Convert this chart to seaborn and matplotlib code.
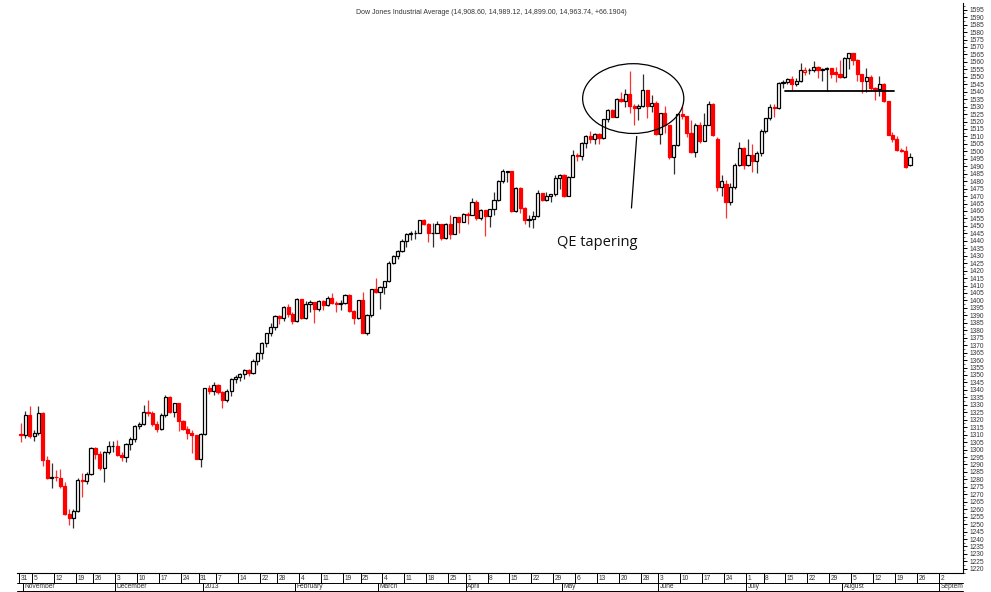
import matplotlib
matplotlib.use("Agg")
import matplotlib.pyplot as plt
from matplotlib.patches import Ellipse
from matplotlib.ticker import MultipleLocator
from matplotlib.transforms import Bbox, TransformedBbox
import numpy as np
import pandas as pd
import seaborn as sns

# Trading calendar (US market holidays + Sandy closure before the first bar)
holidays = ["2012-11-22", "2012-12-25", "2013-01-01", "2013-01-21",
            "2013-02-18", "2013-03-29", "2013-05-27", "2013-07-04"]
first_day = "2012-10-31"
last_day = "2013-08-22"
axis_end = "2013-09-06"

# Daily OHLC, in axis units (index / 10), one line per week
opens = [
    1310.7, 1309.6, 1323.2,
    1309.3, 1311.2, 1324.5, 1293.2, 1281.1,
    1281.8, 1281.0, 1275.6, 1257.0, 1254.2,
    1258.8, 1279.6, 1278.8, 1283.6,
    1300.8, 1296.7, 1287.8, 1298.5, 1302.2,
    1302.6, 1296.6, 1295.2, 1303.5, 1307.4,
    1315.5, 1317.0, 1325.0, 1324.6, 1317.1,
    1313.5, 1323.5, 1335.2, 1325.2, 1331.1,
    1319.0, 1313.9, 1311.4, 1309.6,
    1293.8, 1310.4, 1341.2, 1339.1,
    1343.5, 1338.5, 1332.9, 1339.0, 1347.1,
    1348.8, 1350.7, 1353.5, 1351.1, 1359.6,
    1365.0, 1371.2, 1377.9, 1382.5,
    1389.6, 1388.2, 1395.5, 1391.1, 1386.1,
    1400.9, 1388.0, 1397.9, 1398.7, 1394.4,
    1399.3, 1397.2, 1401.9, 1398.2, 1397.3,
    1398.1, 1403.5, 1392.8, 1388.1,
    1400.0, 1378.4, 1390.0, 1407.5, 1405.4,
    1408.9, 1412.8, 1425.4, 1429.6, 1432.9,
    1439.7, 1444.7, 1445.0, 1445.5, 1453.9,
    1451.4, 1445.2, 1445.5, 1451.1, 1442.1,
    1451.2, 1444.8, 1455.9, 1452.7,
    1457.9, 1457.3, 1466.2, 1455.0, 1460.6,
    1456.5, 1461.3, 1467.3, 1480.2, 1486.3,
    1486.5, 1459.9, 1475.7, 1461.9, 1453.7,
    1454.7, 1456.7, 1471.9, 1467.6, 1470.0,
    1471.2, 1481.9, 1484.0, 1470.0, 1483.1,
    1497.3, 1496.8, 1505.6, 1510.5, 1508.2,
    1511.8, 1509.1, 1521.5, 1527.5, 1523.3,
    1535.4, 1533.5, 1538.7, 1530.7, 1529.4,
    1530.3, 1540.9, 1530.2, 1532.4,
    1511.5, 1525.4, 1517.7, 1496.0, 1504.0,
    1524.8, 1523.9, 1512.2, 1499.5, 1517.6,
    1507.0, 1518.0, 1531.8, 1508.5, 1475.8,
    1478.0, 1466.0, 1476.0, 1491.0, 1502.4,
    1491.0, 1497.5, 1493.2, 1498.8,
    1513.6, 1522.5, 1530.0, 1529.1, 1546.0,
    1546.5, 1548.4, 1545.2, 1547.0, 1553.0,
    1554.4, 1554.5, 1556.7, 1554.3, 1555.5,
    1555.9, 1553.5, 1552.1, 1550.0, 1562.8,
    1565.8, 1561.2, 1551.8, 1547.1, 1549.8,
    1542.6, 1541.9, 1545.1, 1533.7, 1511.3,
    1508.1, 1501.0, 1500.2, 1490.9,
]
highs = [
    1318.0, 1326.0, 1329.0,
    1313.0, 1329.0, 1325.0, 1296.0, 1291.0,
    1286.0, 1287.0, 1278.0, 1260.0, 1260.0,
    1281.0, 1284.0, 1285.0, 1301.5,
    1301.5, 1299.0, 1299.0, 1306.0, 1305.5,
    1306.5, 1298.5, 1304.6, 1308.5, 1316.5,
    1318.5, 1329.8, 1333.1, 1326.0, 1319.0,
    1324.5, 1336.5, 1336.0, 1331.5, 1331.5,
    1319.5, 1316.0, 1313.0, 1310.0,
    1311.0, 1341.5, 1343.0, 1345.5,
    1344.0, 1339.0, 1340.5, 1348.0, 1350.0,
    1351.5, 1354.0, 1354.0, 1361.0, 1365.5,
    1372.0, 1378.5, 1385.0, 1390.0,
    1390.5, 1396.5, 1397.5, 1392.0, 1401.5,
    1401.0, 1399.3, 1400.0, 1399.0, 1400.0,
    1400.3, 1403.0, 1404.7, 1399.5, 1400.0,
    1404.5, 1404.5, 1393.5, 1400.5,
    1406.0, 1391.0, 1408.0, 1415.0, 1409.5,
    1413.0, 1426.5, 1430.5, 1434.0, 1441.3,
    1445.5, 1446.4, 1447.0, 1454.0, 1454.5,
    1452.0, 1452.0, 1453.5, 1451.5, 1452.0,
    1457.5, 1456.3, 1456.0, 1458.5,
    1459.5, 1468.5, 1467.1, 1461.5, 1460.6,
    1461.5, 1473.0, 1481.0, 1488.0, 1487.0,
    1487.0, 1476.0, 1476.0, 1463.0, 1457.0,
    1460.0, 1474.0, 1472.0, 1473.0, 1471.5,
    1484.0, 1485.0, 1484.5, 1483.5, 1501.0,
    1499.0, 1506.0, 1511.0, 1513.5, 1512.0,
    1512.5, 1522.0, 1528.5, 1528.2, 1535.5,
    1540.0, 1542.0, 1554.2, 1531.5, 1532.0,
    1552.0, 1541.0, 1537.5, 1533.9,
    1525.5, 1530.5, 1518.0, 1504.5, 1525.5,
    1530.5, 1524.0, 1520.8, 1519.0, 1520.0,
    1526.0, 1533.5, 1532.5, 1509.5, 1484.0,
    1480.5, 1479.0, 1492.0, 1506.5, 1503.0,
    1508.0, 1505.0, 1500.0, 1515.0,
    1522.5, 1532.0, 1531.5, 1546.5, 1548.0,
    1549.5, 1550.5, 1549.5, 1559.0, 1556.5,
    1556.0, 1560.4, 1557.0, 1556.0, 1556.5,
    1556.0, 1556.5, 1561.0, 1563.3, 1565.8,
    1566.0, 1562.0, 1552.0, 1556.0, 1551.5,
    1543.0, 1550.5, 1546.0, 1533.7, 1513.0,
    1510.5, 1502.5, 1503.5, 1498.9,
]
lows = [
    1305.0, 1308.0, 1308.0,
    1306.0, 1310.0, 1289.0, 1280.5, 1274.3,
    1279.0, 1274.5, 1256.0, 1249.5, 1247.1,
    1258.0, 1268.0, 1277.0, 1283.0,
    1293.5, 1286.0, 1277.9, 1297.0, 1298.5,
    1296.0, 1292.5, 1291.8, 1300.0, 1305.0,
    1313.5, 1316.5, 1322.5, 1316.0, 1311.5,
    1313.0, 1322.0, 1324.5, 1322.0, 1312.5,
    1313.0, 1307.0, 1298.0, 1293.5,
    1288.5, 1310.0, 1337.0, 1336.5,
    1337.0, 1328.0, 1332.0, 1336.0, 1344.5,
    1346.0, 1347.5, 1349.5, 1351.0, 1356.5,
    1361.0, 1368.5, 1376.0, 1380.0,
    1384.5, 1386.0, 1389.0, 1384.0, 1385.5,
    1387.5, 1387.6, 1392.5, 1385.0, 1393.0,
    1393.5, 1396.5, 1397.5, 1392.0, 1393.5,
    1397.5, 1392.5, 1384.0, 1387.5,
    1378.2, 1376.9, 1389.0, 1405.0, 1394.0,
    1404.5, 1412.5, 1424.7, 1428.0, 1432.5,
    1436.0, 1440.5, 1441.0, 1445.0, 1450.3,
    1439.2, 1436.0, 1445.0, 1440.8, 1441.5,
    1441.5, 1444.5, 1445.5, 1452.5,
    1451.0, 1457.0, 1453.7, 1454.0, 1443.5,
    1449.5, 1457.0, 1467.0, 1478.5, 1479.5,
    1459.5, 1459.5, 1458.6, 1451.0, 1449.0,
    1448.5, 1456.0, 1466.5, 1467.0, 1466.0,
    1470.0, 1474.5, 1469.5, 1469.8, 1483.0,
    1493.5, 1494.5, 1502.0, 1505.5, 1505.2,
    1505.0, 1508.5, 1519.5, 1523.0, 1523.0,
    1532.9, 1530.0, 1526.0, 1518.0, 1521.0,
    1530.0, 1522.5, 1526.5, 1511.0,
    1505.0, 1512.0, 1495.0, 1484.5, 1503.5,
    1522.0, 1509.9, 1499.0, 1496.5, 1505.5,
    1507.0, 1517.5, 1510.0, 1473.7, 1470.0,
    1455.0, 1464.0, 1475.0, 1490.5, 1488.0,
    1490.5, 1486.0, 1485.5, 1497.0,
    1512.5, 1521.0, 1523.0, 1528.5, 1542.5,
    1545.0, 1541.0, 1543.5, 1546.5, 1551.5,
    1552.0, 1553.5, 1549.5, 1547.0, 1540.5,
    1549.5, 1546.5, 1549.5, 1549.5, 1555.0,
    1558.0, 1547.0, 1539.0, 1540.0, 1540.8,
    1534.5, 1537.0, 1533.0, 1511.0, 1506.0,
    1500.5, 1499.5, 1488.9, 1489.9,
]
closes = [
    1309.6, 1323.2, 1309.3,
    1311.2, 1324.6, 1293.2, 1281.1, 1281.6,
    1281.5, 1275.6, 1257.0, 1254.2, 1258.8,
    1279.6, 1278.8, 1283.6, 1301.0,
    1296.7, 1287.8, 1298.5, 1302.2, 1302.6,
    1296.6, 1295.2, 1303.5, 1307.4, 1315.5,
    1317.0, 1324.9, 1324.6, 1317.1, 1313.5,
    1323.5, 1335.1, 1325.2, 1331.1, 1319.0,
    1313.9, 1311.4, 1309.6, 1293.8,
    1310.4, 1341.2, 1339.1, 1343.5,
    1338.5, 1332.9, 1339.0, 1347.1, 1348.8,
    1350.7, 1353.5, 1351.1, 1359.6, 1365.0,
    1371.2, 1377.9, 1382.5, 1389.6,
    1388.2, 1395.5, 1391.1, 1386.1, 1400.9,
    1388.0, 1397.9, 1398.7, 1394.4, 1399.3,
    1397.2, 1401.9, 1398.2, 1397.3, 1398.1,
    1403.5, 1392.8, 1388.1, 1400.0,
    1378.4, 1390.0, 1407.5, 1405.4, 1408.9,
    1412.8, 1425.4, 1429.6, 1432.9, 1439.7,
    1444.7, 1445.0, 1445.5, 1453.9, 1451.4,
    1445.2, 1445.5, 1451.1, 1442.1, 1451.2,
    1444.8, 1455.9, 1452.7, 1457.9,
    1457.3, 1466.2, 1455.0, 1460.6, 1456.5,
    1461.3, 1467.3, 1480.2, 1486.5, 1486.5,
    1459.9, 1475.7, 1461.9, 1453.7, 1454.7,
    1456.7, 1471.9, 1467.6, 1470.0, 1471.2,
    1481.9, 1484.0, 1470.0, 1483.1, 1497.3,
    1496.8, 1505.6, 1510.5, 1508.2, 1511.8,
    1509.1, 1521.5, 1527.5, 1523.3, 1535.4,
    1533.5, 1538.7, 1530.7, 1529.4, 1530.3,
    1540.9, 1530.2, 1532.4, 1511.5,
    1525.4, 1517.7, 1496.0, 1504.0, 1524.8,
    1523.9, 1512.2, 1499.5, 1517.6, 1507.0,
    1518.0, 1531.8, 1511.2, 1475.8, 1480.0,
    1466.0, 1476.0, 1491.0, 1502.4, 1491.0,
    1497.5, 1493.2, 1498.8, 1513.6,
    1522.5, 1530.0, 1529.1, 1546.0, 1546.5,
    1548.4, 1545.2, 1547.0, 1554.8, 1554.4,
    1554.5, 1556.7, 1554.3, 1555.5, 1555.9,
    1552.1, 1552.0, 1550.0, 1562.8, 1565.8,
    1561.2, 1551.8, 1547.1, 1549.8, 1542.6,
    1541.9, 1545.1, 1533.7, 1511.3, 1508.1,
    1501.0, 1500.2, 1489.8, 1496.4,
]

title = "Dow Jones Industrial Average (14,908.60, 14,989.12, 14,899.00, 14,963.74, +66.1904)"
note = "QE tapering"
support_level = 1540.7

sns.set_theme(style="white")
plt.rcParams["font.family"] = ["Liberation Sans Narrow", "Liberation Sans", "DejaVu Sans"]

dates = pd.bdate_range(first_day, last_day, freq="C", holidays=holidays)
axis_dates = dates.append(pd.bdate_range(pd.Timestamp(last_day) + pd.Timedelta(days=1), axis_end))
assert len(dates) == len(closes) == len(opens) == len(highs) == len(lows)

o = np.array(opens)
h = np.array(highs)
l = np.array(lows)
c = np.array(closes)
x = np.arange(len(c))
prev = np.concatenate([[o[0]], c[:-1]])
down = c < prev
line_col = np.where(down, "#ff0000", "#000000")
fill_col = np.where(c >= o, "#ffffff", line_col)
wick_col = np.where(down, "#ff3030", "#303030")

W, H = 991, 592
fig = plt.figure(figsize=(W / 100, H / 100), dpi=100)
ax = fig.add_axes([17 / W, 19 / H, 946 / W, 570 / H])

ax.vlines(x, l, h, colors=wick_col, linewidth=0.9, zorder=1)
body = np.maximum(np.abs(c - o), 0.3)
ax.bar(x, body, bottom=np.minimum(o, c), width=0.72, color=fill_col,
       edgecolor=line_col, linewidth=0.9, zorder=2)

ax.set_xlim(-0.9, 215.1)
ax.set_ylim(1217.2, 1599.5)

# annotations
ax.add_patch(Ellipse((139.8, 1535.4), 23.1, 46.8, fill=False, edgecolor="black", linewidth=0.9, zorder=3))
ax.plot([140.6, 139.4], [1510.0, 1462.0], color="black", linewidth=0.9, zorder=3)
ax.text(131.5, 1439.0, note, fontsize=10.5, family=["Open Sans", "DejaVu Sans"],
        ha="center", va="center", color="#111111")
ax.plot([174.4, 199.3], [support_level, support_level], color="black", linewidth=1.3, zorder=3)

# right price axis
for side in ["top", "left"]:
    ax.spines[side].set_visible(False)
ax.spines["right"].set_color("black")
ax.spines["right"].set_linewidth(0.8)
ax.spines["bottom"].set_color("black")
ax.spines["bottom"].set_linewidth(0.8)
ax.yaxis.tick_right()
ax.set_yticks(np.arange(1220, 1596, 5))
ax.yaxis.set_minor_locator(MultipleLocator(2.5))
ax.tick_params(axis="y", which="major", direction="out", length=3, width=0.7,
               pad=1.5, labelsize=4.8, labelcolor="#333333", colors="black", right=True)
ax.tick_params(axis="y", which="minor", direction="out", length=1.5, width=0.5, right=True)
ax.set_xticks([])

# date strip under the plot
tr = ax.get_xaxis_transform()
row1, row2 = -10 / 570, -18 / 570
ax.plot([0, 1], [row1, row1], transform=ax.transAxes, color="black", linewidth=0.7, clip_on=False)
ax.plot([0, 1], [row2, row2], transform=ax.transAxes, color="black", linewidth=0.7, clip_on=False)
clip = TransformedBbox(Bbox([[17 / W, 0], [963 / W, 1]]), fig.transFigure)

week_key = axis_dates.to_period("W")
week_start = [i for i in range(len(axis_dates)) if i == 0 or week_key[i] != week_key[i - 1]]
for i in week_start:
    ax.plot([i - 0.45, i - 0.45], [0, row1], transform=tr, color="black", linewidth=0.7, clip_on=False)
    ax.text(i - 0.1, row1 / 2, str(axis_dates[i].day), transform=tr, fontsize=4.8,
            ha="left", va="center", color="#333333", clip_on=False)

for i in range(1, len(axis_dates)):
    if axis_dates[i].month != axis_dates[i - 1].month:
        name = str(axis_dates[i].year) if axis_dates[i].month == 1 else axis_dates[i].strftime("%B")
        ax.plot([i - 0.45, i - 0.45], [row1, row2], transform=tr, color="black", linewidth=0.7, clip_on=False)
        t = ax.text(i - 0.1, (row1 + row2) / 2, name, transform=tr, fontsize=4.8,
                    ha="left", va="center", color="#333333")
        t.set_clip_box(clip)
        t.set_clip_on(True)

fig.text(491 / W, 1 - 13 / H, title, fontsize=5, ha="center", va="center", color="#333333")

fig.savefig("out.png", dpi=100, facecolor="white")
